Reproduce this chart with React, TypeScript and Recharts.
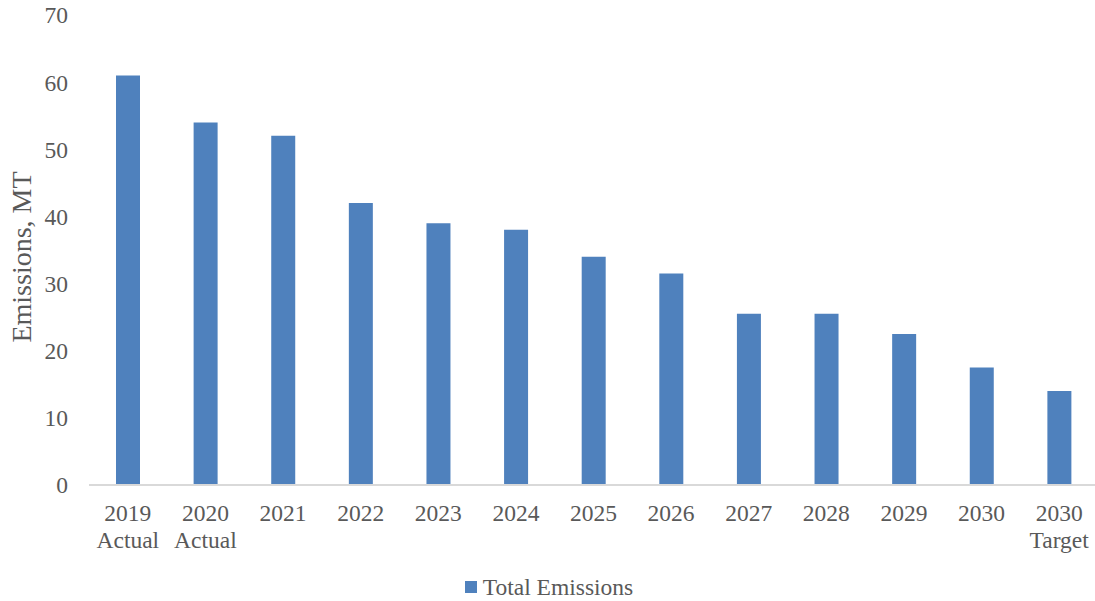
import { BarChart, Bar, XAxis, YAxis, Legend } from 'recharts'

// Emissions pathway, million tonnes
const years = ['2019', '2020', '2021', '2022', '2023', '2024', '2025', '2026', '2027', '2028', '2029', '2030', '2030']
const notes = ['Actual', 'Actual', '', '', '', '', '', '', '', '', '', '', 'Target']
const totalEmissions = [61, 54, 52, 42, 39, 38, 34, 31.5, 25.5, 25.5, 22.5, 17.5, 14]
const yTicks = [0, 10, 20, 30, 40, 50, 60, 70]

const FONT = '"Liberation Serif", "Times New Roman", serif'
const TEXT = '#595959'
const BLUE = '#4f81bd'

const data = years.map((year, i) => ({
  label: notes[i] ? `${year}\n${notes[i]}` : year,
  'Total Emissions': totalEmissions[i],
}))

// two-line category labels (year + note)
function CategoryTick({ x, y, payload }: any) {
  const lines = String(payload.value).split('\n')
  return (
    <text x={x} y={y} textAnchor="middle" fill={TEXT} fontSize={23.5} fontFamily={FONT}>
      {lines.map((line, i) => (
        <tspan key={i} x={x} dy={i === 0 ? 36 : 26.5}>
          {line}
        </tspan>
      ))}
    </text>
  )
}

function ValueTick({ x, y, payload }: any) {
  return (
    <text x={x} y={y} dy="0.36em" textAnchor="end" fill={TEXT} fontSize={23.5} fontFamily={FONT}>
      {payload.value}
    </text>
  )
}

// rotated axis title, baseline sits on the right
function AxisTitle({ viewBox }: any) {
  const x = viewBox.x + 31
  const y = viewBox.y + viewBox.height / 2 + 7
  return (
    <text
      x={x}
      y={y}
      transform={`rotate(-90, ${x}, ${y})`}
      textAnchor="middle"
      fill={TEXT}
      fontSize={28}
      fontFamily={FONT}
    >
      Emissions, MT
    </text>
  )
}

function LegendContent() {
  return (
    <div
      style={{
        display: 'flex',
        justifyContent: 'center',
        alignItems: 'center',
        height: 24,
        fontFamily: FONT,
        fontSize: 23.5,
        lineHeight: '24px',
        color: TEXT,
      }}
    >
      <span style={{ width: 12, height: 12, background: BLUE, marginRight: 6, display: 'inline-block' }} />
      <span>Total Emissions</span>
    </div>
  )
}

export default function App() {
  return (
    <div style={{ position: 'absolute', left: 0, top: 0, width: 1095, height: 601, overflow: 'hidden', background: '#fff' }}>
      <BarChart
        width={1098}
        height={601}
        data={data}
        margin={{ top: 15, right: 0, left: 0, bottom: 2 }}
        barSize={24}
      >
        <XAxis
          dataKey="label"
          interval={0}
          tickLine={false}
          tickSize={0}
          tickMargin={0}
          height={90}
          axisLine={{ stroke: '#d9d9d9', strokeWidth: 2 }}
          tick={<CategoryTick />}
        />
        <YAxis
          width={89}
          domain={[0, 70]}
          ticks={yTicks}
          axisLine={false}
          tickLine={false}
          tickSize={0}
          tickMargin={21}
          tick={<ValueTick />}
          label={<AxisTitle />}
        />
        <Legend verticalAlign="bottom" height={24} content={<LegendContent />} />
        <Bar dataKey="Total Emissions" fill={BLUE} isAnimationActive={false} />
      </BarChart>
    </div>
  )
}
